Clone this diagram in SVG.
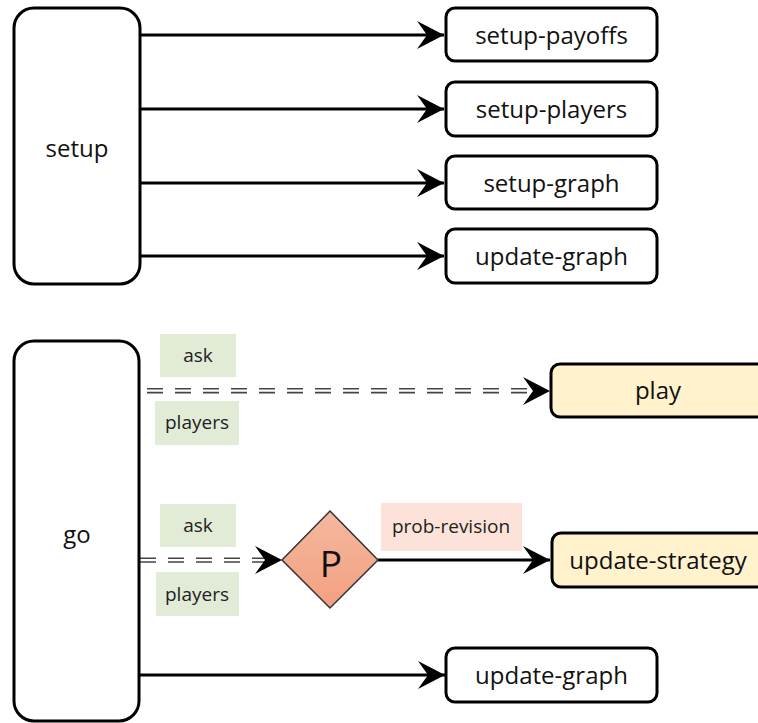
<svg xmlns="http://www.w3.org/2000/svg" width="758" height="723" viewBox="0 0 758 723">
<style>
.box{fill:#ffffff;stroke:#000;stroke-width:3}
.proc{fill:#fff2cc;stroke:#000;stroke-width:3}
.big{fill:#ffffff;stroke:#000;stroke-width:3}
.t{font-family:"Open Sans","Liberation Sans",sans-serif;font-size:24px;fill:#111;text-anchor:middle;dominant-baseline:central}
.lbl{font-family:"Open Sans","Liberation Sans",sans-serif;font-size:19px;fill:#222;text-anchor:middle;dominant-baseline:central}
.g{fill:#e1ebd6}
.pk{fill:#fce2d8}
.solid{stroke:#000;stroke-width:3;fill:none}
.dbl{stroke:#444;stroke-width:1.6;fill:none;stroke-dasharray:16 12}
</style>
<defs>
<marker id="ah" markerUnits="userSpaceOnUse" markerWidth="30" markerHeight="32" viewBox="-28 -15 30 30" refX="0" refY="0" orient="auto">
<path d="M0,0 L-27,-14 L-17,0 L-27,14 Z" fill="#000"/>
</marker>
<linearGradient id="dg" x1="0" y1="0" x2="0" y2="1">
<stop offset="0" stop-color="#f4b89f"/>
<stop offset="1" stop-color="#f3a07f"/>
</linearGradient>
</defs>

<g id="connectors">
<line class="solid" x1="140" y1="35" x2="444" y2="35" marker-end="url(#ah)"/>
<line class="solid" x1="140" y1="109" x2="444" y2="109" marker-end="url(#ah)"/>
<line class="solid" x1="140" y1="183" x2="444" y2="183" marker-end="url(#ah)"/>
<line class="solid" x1="140" y1="256" x2="444" y2="256" marker-end="url(#ah)"/>
<g id="edge-play">
<line class="dbl" x1="147" y1="388.8" x2="533" y2="388.8"/>
<line class="dbl" x1="147" y1="392.6" x2="533" y2="392.6"/>
<path d="M550,391 L523,377 L533,391 L523,405 Z" fill="#000"/>
</g>
<g id="edge-p">
<line class="dbl" x1="140" y1="558.2" x2="264" y2="558.2"/>
<line class="dbl" x1="140" y1="562" x2="264" y2="562"/>
<path d="M282,560 L255,546 L265,560 L255,574 Z" fill="#000"/>
</g>
<line class="solid" x1="378" y1="560" x2="550" y2="560" marker-end="url(#ah)"/>
<line class="solid" x1="140" y1="675" x2="445" y2="675" marker-end="url(#ah)"/>
</g>

<g id="setup">
<rect class="big" x="14" y="8" width="126" height="276" rx="20"/>
<text class="t" x="77" y="147">setup</text>
</g>
<g id="setup-payoffs">
<rect class="box" x="446" y="8" width="211" height="53" rx="9"/>
<text class="t" x="551.5" y="34">setup-payoffs</text>
</g>
<g id="setup-players">
<rect class="box" x="446" y="82" width="211" height="54" rx="9"/>
<text class="t" x="551.5" y="108">setup-players</text>
</g>
<g id="setup-graph">
<rect class="box" x="446" y="156" width="211" height="53" rx="9"/>
<text class="t" x="551.5" y="182">setup-graph</text>
</g>
<g id="update-graph-1">
<rect class="box" x="446" y="229" width="211" height="54" rx="9"/>
<text class="t" x="551.5" y="255">update-graph</text>
</g>

<g id="go">
<rect class="big" x="14" y="341" width="125" height="380" rx="20"/>
<text class="t" x="77" y="533">go</text>
</g>
<g id="label-ask-1">
<rect class="g" x="160" y="334" width="76" height="43"/>
<text class="lbl" x="198" y="355">ask</text>
</g>
<g id="label-players-1">
<rect class="g" x="155" y="401" width="84" height="44"/>
<text class="lbl" x="197" y="422">players</text>
</g>
<g id="play">
<rect class="proc" x="551" y="364" width="230" height="53" rx="9"/>
<text class="t" x="658" y="389">play</text>
</g>
<g id="label-ask-2">
<rect class="g" x="160" y="504" width="76" height="43"/>
<text class="lbl" x="198" y="525">ask</text>
</g>
<g id="label-players-2">
<rect class="g" x="156" y="572" width="83" height="44"/>
<text class="lbl" x="197" y="594">players</text>
</g>
<g id="P">
<path d="M330,511 L378,560 L330,608 L282,560 Z" fill="url(#dg)" stroke="#333" stroke-width="1.5"/>
<text class="t" x="331" y="562" style="font-size:37px">P</text>
</g>
<g id="label-prob-revision">
<rect class="pk" x="381" y="503" width="141" height="48"/>
<text class="lbl" x="451" y="526">prob-revision</text>
</g>
<g id="update-strategy">
<rect class="proc" x="552" y="533" width="230" height="54" rx="9"/>
<text class="t" x="658" y="559">update-strategy</text>
</g>
<g id="update-graph-2">
<rect class="box" x="446" y="648" width="211" height="54" rx="9"/>
<text class="t" x="551.5" y="674">update-graph</text>
</g>
</svg>
